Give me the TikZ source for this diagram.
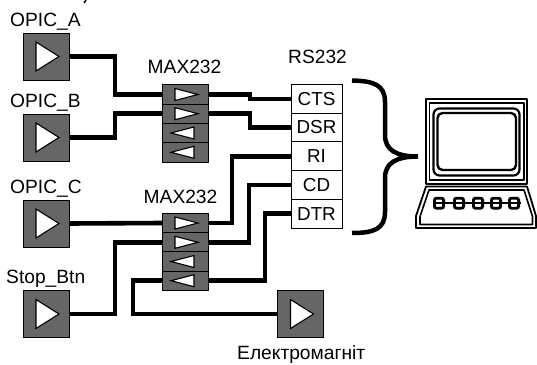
\documentclass[tikz,border=0pt]{standalone}
\usepackage{fontspec}
\setmainfont{Liberation Sans}
\definecolor{boxgray}{HTML}{666666}
\tikzset{
  opic/.style={draw=black,line width=0.9pt,fill=boxgray,minimum width=46pt,minimum height=47pt,inner sep=0pt,outer sep=0pt},
  cell/.style={draw=black,line width=0.9pt,fill=boxgray,minimum width=46pt,minimum height=19.3pt,inner sep=0pt,outer sep=0pt},
  sig/.style={draw=black,line width=0.9pt,fill=white,minimum width=51pt,minimum height=28.7pt,inner sep=0pt,outer sep=0pt,font=\fontsize{18.8}{18.8}\selectfont},
  lbl/.style={anchor=base west,inner sep=0pt,font=\fontsize{19.2}{19.2}\selectfont},
  wire/.style={draw=black,line width=4.6pt,line cap=butt,line join=miter},
  tri/.style={draw=black,fill=white,line width=1.1pt,line join=miter},
  pc/.style={draw=black,fill=white,line join=round}
}
\begin{document}
\begin{tikzpicture}[x=1pt,y=-1pt]
\useasboundingbox (0,0) rectangle (537,364);
\node[opic] (A) at (46,56.5) {};
\node[opic] (B) at (46,137.5) {};
\node[opic] (C) at (46,223.5) {};
\node[opic] (S) at (46,314) {};
\node[opic] (E) at (300.5,314) {};
\node[cell] (m1a) at (185,94.5) {};
\node[cell] (m1b) at (185,113.7) {};
\node[cell] (m1c) at (185,133) {};
\node[cell] (m1d) at (185,152.3) {};
\node[cell] (m2a) at (185,223) {};
\node[cell] (m2b) at (185,242.3) {};
\node[cell] (m2c) at (185,261.5) {};
\node[cell] (m2d) at (185,280.7) {};
\node[sig] (cts) at (316.5,98.8) {CTS};
\node[sig] (dsr) at (316.5,127.5) {DSR};
\node[sig] (ri) at (316.5,156.2) {RI};
\node[sig] (cd) at (316.5,184.9) {CD};
\node[sig] (dtr) at (316.5,213.6) {DTR};
% connectors
\draw[wire] (A.east) -- ++(46,0) |- (m1a.west);
\draw[wire] (B.east) -- ++(46,0) |- (m1b.west);
\draw[wire] (C.east) -- (m2a.west);
\draw[wire] (S.east) -- ++(46,0) |- (m2b.west);
\draw[wire] (E.west) -- (133,314) |- (m2d.west);
\draw[wire] (m1a.east) -- (250,94.5) |- (cts.west);
\draw[wire] (m1b.east) -- (250,113.7) |- (dsr.west);
\draw[wire] (m2a.east) -- (232,223) |- (ri.west);
\draw[wire] (m2b.east) -- (249,242.3) |- (cd.west);
\draw[wire] (m2d.east) -- (265,280.7) |- (dtr.west);
% triangles in the big boxes
\foreach \n in {A,B,C,S,E}
  \draw[tri,shift={(\n.center)}] (-10,-14.5) -- (13,0) -- (-10,14.5) -- cycle;
% triangles in the driver cells
\foreach \n in {m1a,m1b,m2a,m2b}
  \draw[tri,shift={(\n.center)}] (-10,-6) -- (13,0) -- (-10,6) -- cycle;
\foreach \n in {m1c,m1d,m2c,m2d}
  \draw[tri,shift={(\n.center)}] (9,-6) -- (-14,0) -- (9,6) -- cycle;
% labels
\node[lbl] (la) at (10,26) {OPIC\_A};
\node[lbl] (lb) at (10,107) {OPIC\_B};
\node[lbl] (lc) at (10,193) {OPIC\_C};
\node[lbl] (ls) at (6,283) {Stop\_Btn};
\node[lbl] (lm1) at (147.5,73) {MAX232};
\node[lbl] (lm2) at (143.5,203) {MAX232};
\node[lbl] (lrs) at (288,63) {RS232};
\node[lbl] (le) at (237,359) {Електромагніт};
% clipped stroke at the top edge
\draw[line width=1.4pt] (86,0) -- (84,3);
% brace
\draw[line width=4.5pt] (352,80.5) .. controls (374,81) and (385,85) .. (385,102)
  -- (385,135) .. controls (385,150) and (396,156.5) .. (418,156.5)
  .. controls (396,156.5) and (385,163) .. (385,178)
  -- (385,212) .. controls (385,229) and (374,233) .. (352,233);
% monitor
\draw[pc,line width=1.8pt] (425.8,98.8) rectangle (527.2,184);
\draw[pc,line width=1.6pt] (429.3,102.8) rectangle (523.7,180);
\draw[pc,line width=2.2pt,rounded corners=6pt] (433.5,108.5) rectangle (519.5,175.5);
\draw[pc,line width=2.4pt,rounded corners=5pt] (437.5,113) rectangle (516,170);
% base
\draw[pc,line width=1.8pt] (416,228) -- (416,216) -- (426,186.5) -- (527,186.5) -- (536,216) -- (536,228) -- cycle;
\draw[pc,line width=1.6pt] (420,224.5) -- (420,216.5) -- (429,190) -- (524,190) -- (532.5,216.5) -- (532.5,224.5) -- cycle;
% keyboard
\foreach \kx in {439,459,478,496,514}
  \draw[line width=2.8pt,rounded corners=2pt,fill=white] (\kx-4.6,198.2) rectangle (\kx+4.6,208.2);
\draw[line width=2pt] (433,203.2) -- (521,203.2);
\end{tikzpicture}
\end{document}
